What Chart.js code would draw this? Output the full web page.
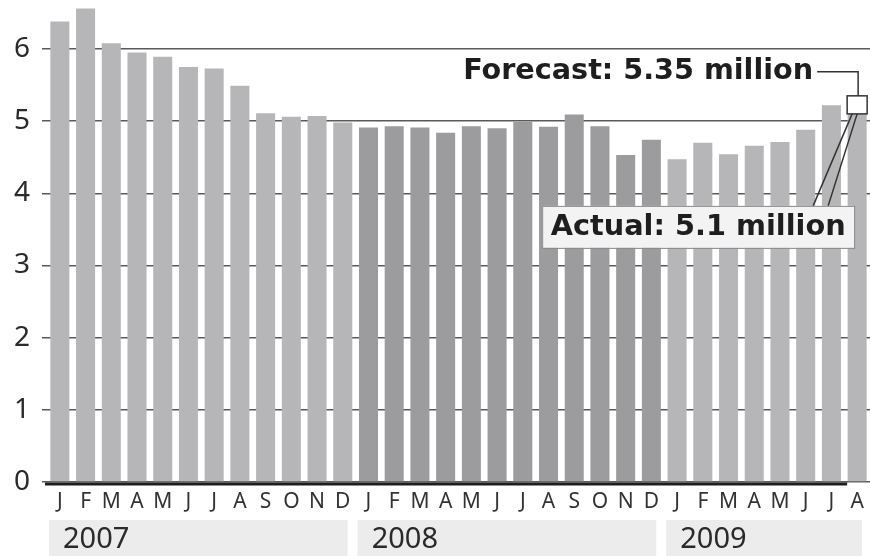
<!DOCTYPE html>
<html>
<head>
<meta charset="utf-8">
<script src="https://cdn.jsdelivr.net/npm/chart.js@4/dist/chart.umd.min.js"></script>
<style>
  html, body { margin: 0; padding: 0; background: #fff; }
  #wrap { width: 870px; height: 556px; position: relative; }
</style>
</head>
<body>
<div id="wrap"><canvas id="myChart" width="870" height="556"></canvas></div>
<script>
// monthly existing-home sales, millions (seasonally adjusted annual rate)
const monthLabels = [
    'J', 'F', 'M', 'A', 'M', 'J', 'J', 'A', 'S', 'O', 'N', 'D',
    'J', 'F', 'M', 'A', 'M', 'J', 'J', 'A', 'S', 'O', 'N', 'D',
    'J', 'F', 'M', 'A', 'M', 'J', 'J', 'A',
];
const years = ['2007', '2008', '2009'];
const monthsPerYear = [12, 12, 8];
const sales = [
    6.38, 6.56, 6.08, 5.95, 5.89, 5.75, 5.73, 5.49, 5.11, 5.06, 5.07, 4.98,
    4.91, 4.93, 4.91, 4.84, 4.93, 4.90, 4.99, 4.92, 5.09, 4.93, 4.53, 4.74,
    4.47, 4.70, 4.54, 4.66, 4.71, 4.88, 5.22, 5.10,
];
const yTicks = [0, 1, 2, 3, 4, 5, 6];
const forecast = 5.35;
const actual = 5.1;
const forecastLabel = 'Forecast: 5.35 million';
const actualLabel = 'Actual: 5.1 million';

const yearColors = ['#b6b6b8', '#9c9c9e', '#b6b6b8'];
const barColors = [];
monthsPerYear.forEach((n, i) => {
    for (let k = 0; k < n; k++) barColors.push(yearColors[i]);
});

const textFont = 'Noto Sans, Open Sans, sans-serif';
const boldFont = 'DejaVu Sans, Liberation Sans, sans-serif';

function fitText(ctx, text, x, y, width, align) {
    const w = ctx.measureText(text).width;
    const s = width / w;
    ctx.save();
    ctx.translate(x, y);
    ctx.scale(s, 1);
    ctx.textAlign = align;
    ctx.fillText(text, 0, 0);
    ctx.restore();
}

const yearBands = {
    id: 'yearBands',
    afterDraw(chart) {
        const ctx = chart.ctx;
        const xs = chart.scales.x;
        const half = (xs.getPixelForValue(1) - xs.getPixelForValue(0)) / 2;
        let start = 0;
        ctx.save();
        years.forEach((year, i) => {
            const end = start + monthsPerYear[i] - 1;
            const left = xs.getPixelForValue(start) - half + 2;
            const right = Math.min(xs.getPixelForValue(end) + half - 8, chart.width);
            ctx.fillStyle = '#ececec';
            ctx.fillRect(left, 520, right - left, 36);
            ctx.fillStyle = '#2a2a2a';
            ctx.font = '29px ' + textFont;
            ctx.textAlign = 'left';
            ctx.textBaseline = 'middle';
            ctx.fillText(year, left + 14, 540);
            start = end + 1;
        });
        ctx.restore();
    },
};

const callouts = {
    id: 'callouts',
    afterDatasetsDraw(chart) {
        const ctx = chart.ctx;
        const xs = chart.scales.x;
        const ys = chart.scales.y;
        const area = chart.chartArea;
        const last = sales.length - 1;
        const cx = xs.getPixelForValue(last);
        const yF = ys.getPixelForValue(forecast);
        const yA = ys.getPixelForValue(actual);

        ctx.save();
        // baseline
        ctx.strokeStyle = '#1e1e1e';
        ctx.lineWidth = 3;
        ctx.beginPath();
        ctx.moveTo(area.left - 2, area.bottom + 2);
        ctx.lineTo(cx - 10, area.bottom + 2);
        ctx.stroke();

        // forecast box on top of last bar
        ctx.lineWidth = 1.5;
        ctx.strokeStyle = '#333';
        ctx.fillStyle = '#fff';
        ctx.fillRect(cx - 10, yF, 20, yA - yF);
        ctx.strokeRect(cx - 10, yF, 20, yA - yF);

        // forecast leader
        const ly = yF - 24;
        ctx.beginPath();
        ctx.moveTo(cx - 40, ly);
        ctx.lineTo(cx + 1, ly);
        ctx.lineTo(cx + 1, yF);
        ctx.stroke();

        ctx.fillStyle = '#1e1e1e';
        ctx.font = 'bold 29px ' + boldFont;
        ctx.textBaseline = 'middle';
        fitText(ctx, forecastLabel, cx - 44, ly, 350, 'right');

        // actual box
        const bTop = yA + 92;
        const bLeft = cx - 315;
        const bRight = cx - 3;
        ctx.beginPath();
        ctx.moveTo(cx - 44, bTop);
        ctx.lineTo(cx - 5, yA);
        ctx.moveTo(cx - 29, bTop);
        ctx.lineTo(cx, yA);
        ctx.stroke();

        ctx.fillStyle = '#f3f3f3';
        ctx.fillRect(bLeft, bTop, bRight - bLeft, 42);
        ctx.lineWidth = 1;
        ctx.strokeStyle = '#8a8a8a';
        ctx.strokeRect(bLeft + 0.5, bTop + 0.5, bRight - bLeft, 42);
        ctx.fillStyle = '#1e1e1e';
        fitText(ctx, actualLabel, (bLeft + bRight) / 2, bTop + 22, 295, 'center');
        ctx.restore();
    },
};

const ctx = document.getElementById('myChart').getContext('2d');
new Chart(ctx, {
    type: 'bar',
    data: {
        labels: monthLabels,
        datasets: [{
            data: sales,
            backgroundColor: barColors,
            borderWidth: 0,
            categoryPercentage: 1,
            barPercentage: 0.74,
        }],
    },
    options: {
        responsive: false,
        animation: false,
        events: [],
        layout: { padding: { top: 2, right: 0, left: 0, bottom: 0 } },
        plugins: {
            legend: { display: false },
            tooltip: { enabled: false },
        },
        scales: {
            x: {
                afterFit(scale) {
                    scale.height = 74;
                    scale.paddingLeft = 0;
                    scale.paddingRight = 0;
                },
                grid: { display: false, drawTicks: false },
                border: { display: false },
                ticks: {
                    color: '#333',
                    padding: 7,
                    autoSkip: false,
                    maxRotation: 0,
                    font: { family: textFont, size: 21 },
                },
            },
            y: {
                min: 0,
                max: 6.65,
                afterFit(scale) {
                    scale.width = 47;
                    scale.paddingTop = 0;
                    scale.paddingBottom = 0;
                },
                afterBuildTicks(scale) { scale.ticks = yTicks.map(v => ({ value: v })); },
                border: { display: false },
                grid: {
                    color: '#5a5a5a',
                    lineWidth: 1.5,
                    tickLength: 5,
                },
                ticks: {
                    color: '#2a2a2a',
                    padding: 12,
                    font: { family: textFont, size: 28 },
                },
            },
        },
    },
    plugins: [yearBands, callouts],
});
</script>
</body>
</html>
